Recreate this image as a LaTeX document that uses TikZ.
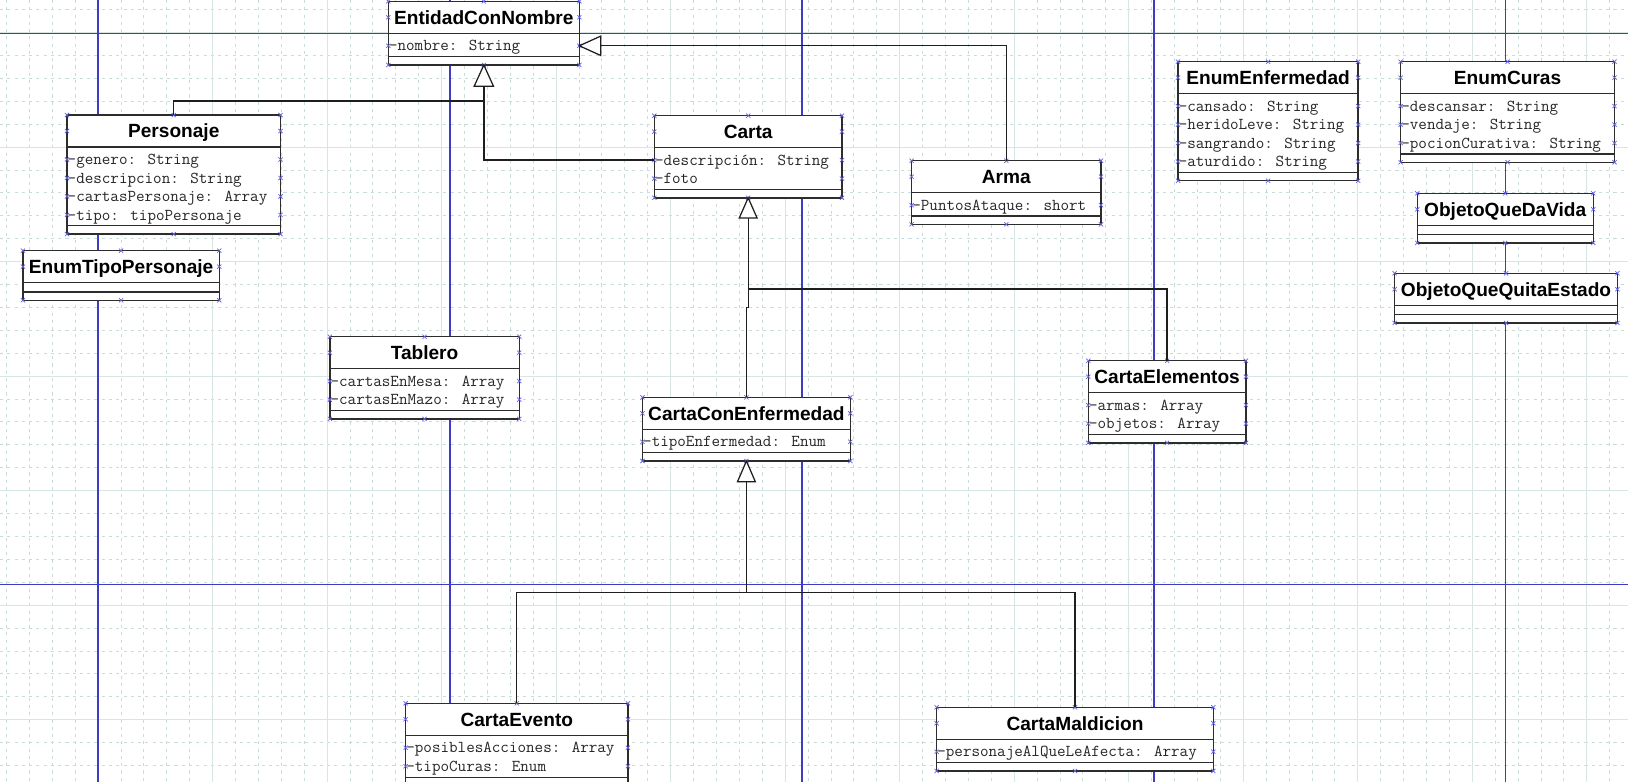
\documentclass[tikz,border=0pt]{standalone}
\usepackage{fontspec}
\newfontfamily\titlefont{Liberation Sans}
\usetikzlibrary{calc}
\definecolor{gridmaj}{RGB}{216,229,229}
\definecolor{gridmin}{RGB}{200,220,220}
\definecolor{pageblue}{RGB}{60,60,200}
\definecolor{markblue}{RGB}{100,100,230}
\definecolor{boxline}{RGB}{45,45,45}
\definecolor{connline}{RGB}{30,30,30}
\tikzset{
  classbox/.style={draw=boxline, fill=white, line width=1.4pt, inner sep=0pt, outer sep=0pt, rectangle},
  sepline/.style={draw=boxline, line width=1.2pt},
  titletext/.style={font=\titlefont\bfseries\fontsize{18.4}{20}\selectfont, inner sep=0pt, anchor=base},
  attrtext/.style={font=\ttfamily\fontsize{16}{18}\selectfont, inner sep=0pt, anchor=base west, text=black!85},
  conn/.style={draw=connline, line width=1.3pt},
  tri/.style={draw=connline, fill=white, line width=1.2pt, line join=miter},
  xmark/.style={draw=markblue, line width=0.7pt},
  pageline/.style={draw=pageblue, line width=1.4pt},
  gridmajor/.style={draw=gridmaj, line width=1pt},
  gridminor/.style={draw=gridmin, line width=0.8pt, dash pattern=on 3pt off 4pt},
}
\newcommand\xm[2]{\draw[xmark] ($(#1,#2)+(-2,-2)$) -- ++(4,4) ($(#1,#2)+(-2,2)$) -- ++(4,-4);}
% name, L, R, T, title, n, attrs
\newcommand\umlclass[7]{%
  \pgfmathsetmacro\uL{#2}%
  \pgfmathsetmacro\uR{#3}%
  \pgfmathsetmacro\uT{#4}%
  \pgfmathsetmacro\uSa{#4+30.8}%
  \ifnum#6=0 \pgfmathsetmacro\uSb{\uSa+9}\else\pgfmathsetmacro\uSb{\uSa+22.5+(#6-1)*17.8}\fi
  \pgfmathsetmacro\uB{\uSb+8}%
  \pgfmathsetmacro\uW{\uR-\uL}%
  \pgfmathsetmacro\uH{\uB-\uT}%
  \pgfmathsetmacro\uM{(\uL+\uR)/2}%
  \pgfmathsetmacro\uC{(\uT+\uSa)/2}%
  \node[classbox, minimum width=\uW pt, minimum height=\uH pt, anchor=north west] (#1) at (\uL,\uT) {};
  \draw[sepline] (\uL,\uSa) -- (\uR,\uSa) (\uL,\uSb) -- (\uR,\uSb);
  \node[titletext] (#1-title) at (\uM,\uC+6.6) {#5};
  \ifnum#6>0
    \foreach \a [count=\i] in {#7} {
      \pgfmathsetmacro\uY{\uSa+12+(\i-1)*17.8}
      \coordinate (#1-r\i) at (\uL,\uY);
      \node[attrtext] (#1-a\i) at (\uL+0.5,\uY+4.9) {\a};
      \xm{\uL}{\uY}\xm{\uR}{\uY}
    }
  \fi
  \xm{\uL}{\uT}\xm{\uM}{\uT}\xm{\uR}{\uT}
  \xm{\uL}{\uC}\xm{\uR}{\uC}
  \xm{\uL}{\uB}\xm{\uM}{\uB}\xm{\uR}{\uB}
}
\begin{document}
\begin{tikzpicture}[x=1pt,y=-1pt]
\useasboundingbox (0,0) rectangle (1568,753);
\fill[white] (0,0) rectangle (1568,753);
\begin{scope}
  \clip (0,0) rectangle (1568,753);
  \foreach \i in {-5,...,67} { \draw[gridminor] ({94.4+\i*22.06},0) -- ++(0,753); }
  \foreach \j in {-2,...,34} { \draw[gridminor] (0,{31.3+\j*22.06}) -- ++(1568,0); }
  \foreach \k in {-1,...,14} { \draw[gridmajor] ({94.4+\k*110.3},0) -- ++(0,753); }
  \foreach \k in {-1,...,7} { \draw[gridmajor] (0,{31.3+\k*110.3}) -- ++(1568,0); }
\end{scope}
% page break lines
\foreach \px in {94.4,433.6,772.3,1111.3,1450.2} { \draw[pageline] (\px,0) -- (\px,753); }
\foreach \py in {32.1,562.8} { \draw[pageline] (0,\py) -- (1568,\py); }

% classes
\umlclass{ent}{374}{558}{1.3}{EntidadConNombre}{1}{-nombre: String}
\umlclass{per}{64.5}{270.2}{110.8}{Personaje}{4}{-genero: String,-descripcion: String,-cartasPersonaje: Array,-tipo: tipoPersonaje}
\umlclass{etp}{22.1}{211.2}{241.4}{EnumTipoPersonaje}{0}{}
\umlclass{carta}{630.2}{811}{111.4}{Carta}{2}{-descripción: String,-foto}
\umlclass{arma}{878}{1060.4}{154.8}{Arma}{1}{-PuntosAtaque: short}
\umlclass{tablero}{317.7}{500.1}{324.3}{Tablero}{2}{-cartasEnMesa: Array,-cartasEnMazo: Array}
\umlclass{ccenf}{618.8}{819}{382.7}{CartaConEnfermedad}{1}{-tipoEnfermedad: Enum}
\umlclass{celem}{1048.2}{1200}{347.4}{CartaElementos}{2}{-armas: Array,-objetos: Array}
\umlclass{enf}{1134.6}{1308.1}{59.4}{EnumEnfermedad}{4}{-cansado: String,-heridoLeve: String,-sangrando: String,-aturdido: String}
\umlclass{curas}{1349}{1555}{59.4}{EnumCuras}{3}{-descansar: String,-vendaje: String,-pocionCurativa: String}
\umlclass{odv}{1365}{1534.5}{186.2}{ObjetoQueDaVida}{0}{}
\umlclass{oqe}{1343.2}{1557.8}{263.2}{ObjetoQueQuitaEstado}{0}{}
\umlclass{cevento}{390.7}{604.8}{677.4}{CartaEvento}{2}{-posiblesAcciones: Array,-tipoCuras: Enum}
\umlclass{cmald}{902.1}{1168.6}{681.2}{CartaMaldicion}{1}{-personajeAlQueLeAfecta: Array}

% connectors
\draw[conn] (per.north) |- ($(ent.south)+(0,34.7)$) -- (ent.south);
\draw[conn] (carta.west |- carta-r1) -| (ent.south);
\draw[conn] (arma.north) |- (ent.east |- ent-r1);
\draw[conn] (celem.north) |- ($(carta.south)+(0,87.9)$) -- (carta.south);
\draw[conn] (ccenf.north) |- ($(carta.south)+(0,105.6)$) -- (carta.south);
\draw[conn] (cevento.north) |- ($(ccenf.south)+(0,126.4)$) -- (ccenf.south);
\draw[conn] (cmald.north) |- ($(ccenf.south)+(0,126.4)$);

% inheritance triangles
\draw[tri] (ent.south) -- ++(-9.3,20.5) -- ++(18.6,0) -- cycle;
\draw[tri] (ent.east |- ent-r1) -- ++(20.5,-9.3) -- ++(0,18.6) -- cycle;
\draw[tri] (carta.south) -- ++(-8.6,19.5) -- ++(17.2,0) -- cycle;
\draw[tri] (ccenf.south) -- ++(-8.6,20) -- ++(17.2,0) -- cycle;
\end{tikzpicture}
\end{document}
